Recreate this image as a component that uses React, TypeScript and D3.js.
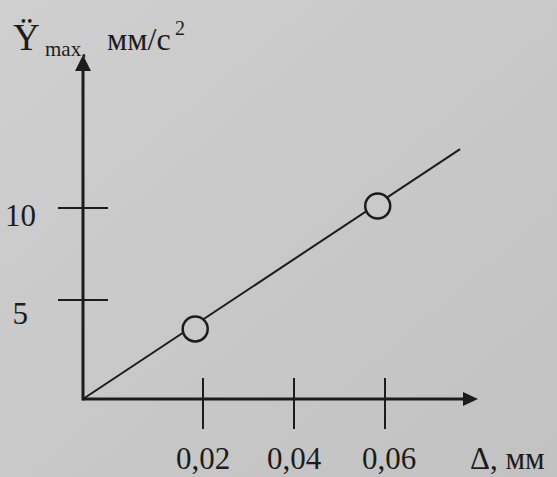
import React from "react";
import * as d3 from "d3";

// ---- data ----
const xTicks = [0.02, 0.04, 0.06];
const xTickLabels = ["0,02", "0,04", "0,06"];
const yTicks = [5, 10];
const yTickLabels = ["5", "10"];
const pointX = [0.0187, 0.0584];
const pointY = [3.54, 10.11];
const lineX = [0, 0.0765];
const lineY = [0, 13.2];

const W = 557;
const H = 477;

export default function App() {
  // hand-drawn axes: piecewise-linear scales
  const x = d3.scaleLinear().domain([0, 0.02, 0.06]).range([83, 203, 385]);
  const y = d3.scaleLinear().domain([0, 5, 10]).range([399, 300, 208]);
  const x0 = x(0);
  const y0 = y(0);
  const xEnd = 478;
  const yEnd = 55;
  const ink = "#1c1c1c";
  const font = "'Liberation Serif', 'DejaVu Serif', serif";

  const line = d3
    .line<number>()
    .x((d) => x(lineX[d]))
    .y((d) => y(lineY[d]));

  return (
    <svg
      width={W}
      height={H}
      style={{ position: "absolute", left: 0, top: 0 }}
      fontFamily={font}
    >
      <defs>
        <linearGradient id="bg" x1="0" y1="0" x2="1" y2="1">
          <stop offset="0" stopColor="#cfcfcf" />
          <stop offset="1" stopColor="#c2c2c2" />
        </linearGradient>
      </defs>
      <rect width={W} height={H} fill="url(#bg)" />

      {/* data line */}
      <path d={line([0, 1]) || ""} fill="none" stroke={ink} strokeWidth={2} />

      {/* axes */}
      <line x1={x0} y1={y0} x2={xEnd - 10} y2={y0} stroke={ink} strokeWidth={3} />
      <line x1={x0} y1={y0 + 1.5} x2={x0} y2={yEnd + 10} stroke={ink} strokeWidth={3} />
      <path
        d={`M${xEnd},${y0} L${xEnd - 15},${y0 - 7} L${xEnd - 15},${y0 + 7} Z`}
        fill={ink}
      />
      <path
        d={`M${x0},${yEnd} L${x0 - 8},${yEnd + 16} L${x0 + 8},${yEnd + 16} Z`}
        fill={ink}
      />

      {/* x ticks */}
      {xTicks.map((t, i) => (
        <g key={"xt" + i}>
          <line x1={x(t)} x2={x(t)} y1={y0 - 21} y2={y0 + 30} stroke={ink} strokeWidth={2} />
          <text
            x={x(t) + (i === 2 ? 4 : 0)}
            y={469}
            textAnchor="middle"
            fontSize={31}
            fill={ink}
          >
            {xTickLabels[i]}
          </text>
        </g>
      ))}

      {/* y ticks */}
      {yTicks.map((t, i) => (
        <g key={"yt" + i}>
          <line x1={x0 - 25} x2={x0 + 25} y1={y(t)} y2={y(t)} stroke={ink} strokeWidth={2} />
          <text x={i === 0 ? 28 : 36} y={y(t) + (i === 0 ? 24 : 18)} textAnchor="end" fontSize={31} fill={ink}>
            {yTickLabels[i]}
          </text>
        </g>
      ))}

      {/* points */}
      {pointX.map((px, i) => (
        <circle
          key={"p" + i}
          cx={x(px)}
          cy={y(pointY[i])}
          r={12.5}
          fill="#c9c9c9"
          stroke={ink}
          strokeWidth={2.5}
        />
      ))}

      {/* axis titles */}
      <text x={13} y={50} fontSize={37} fill={ink}>
        Ÿ
      </text>
      <text x={45} y={56} fontSize={21} fill={ink}>
        max,
      </text>
      <text x={107} y={50} fontSize={32} fill={ink}>
        мм/с
      </text>
      <text x={175} y={35} fontSize={20} fill={ink}>
        2
      </text>
      <text x={470} y={469} fontSize={31} fill={ink}>
        Δ, мм
      </text>
    </svg>
  );
}
